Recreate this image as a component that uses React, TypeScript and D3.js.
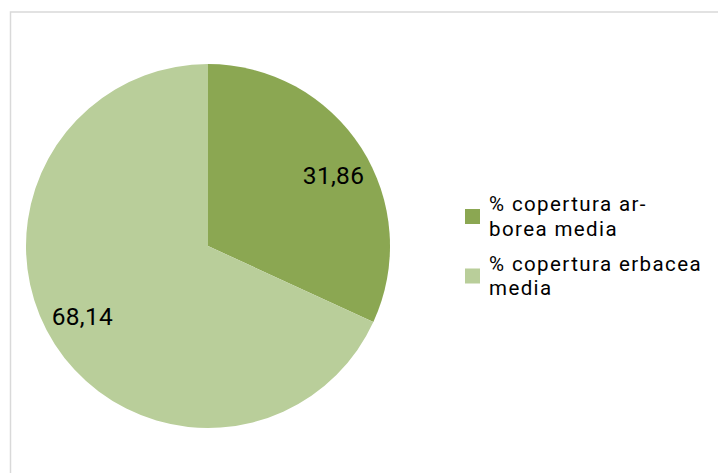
import React from "react";
import * as d3 from "d3";

const categories = ["% copertura arborea media", "% copertura erbacea media"];
const legendLines = [["% copertura ar-", "borea media"], ["% copertura erbacea", "media"]];
const values = [31.86, 68.14];
const labels = ["31,86", "68,14"];
const colors = ["#8BA752", "#B9CE9A"];

const W = 718, H = 473;
const cx = 208, cy = 246, R = 182;

export default function App() {
  const pie = d3.pie<number>().sort(null).value((d) => d);
  const arcs = pie(values);
  const arc = d3.arc<d3.PieArcDatum<number>>().innerRadius(0).outerRadius(R);
  const font = "Roboto, 'Open Sans', sans-serif";
  const labelR = R * 0.79;
  const shift = (3.5 * Math.PI) / 180;
  return (
    <svg width={W} height={H} style={{ position: "absolute", left: 0, top: 0, background: "#fff" }}>
      <rect x={10.5} y={12} width={740} height={500} fill="#fff" stroke="#d9d9d9" strokeWidth={1.5} />
      <g transform={`translate(${cx},${cy})`}>
        {arcs.map((a, i) => (
          <path key={i} d={arc(a) || ""} fill={colors[i]} stroke="none" />
        ))}
        {arcs.map((a, i) => {
          const m = (a.startAngle + a.endAngle) / 2 + shift;
          return (
            <text key={i} x={labelR * Math.sin(m)} y={-labelR * Math.cos(m)} textAnchor="middle"
              dominantBaseline="central" fontFamily={font} fontSize={24.5} letterSpacing={0.3} fill="#000">
              {labels[i]}
            </text>
          );
        })}
      </g>
      {categories.map((c, i) => (
        <g key={c} transform={`translate(465,${209 + i * 59.5})`}>
          <rect x={0} y={0} width={15} height={15} fill={colors[i]} />
          <text fontFamily={font} fontSize={20.5} letterSpacing={1.4} fill="#000">
            {legendLines[i].map((l, j) => (
              <tspan key={j} x={24} y={2 + j * 24.5}>{l}</tspan>
            ))}
          </text>
        </g>
      ))}
    </svg>
  );
}
